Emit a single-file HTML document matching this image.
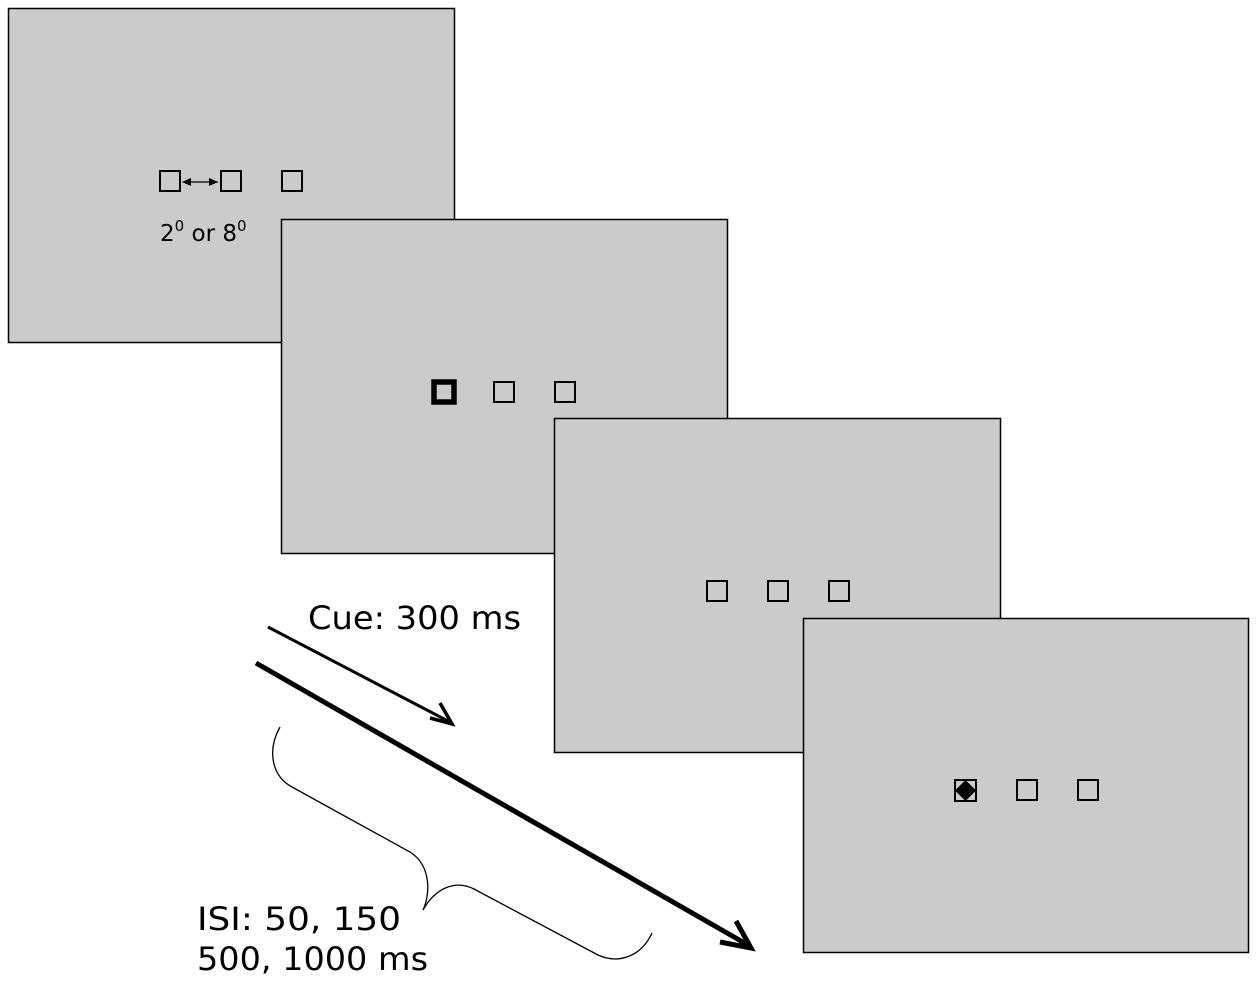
<!DOCTYPE html>
<html><head><style>body{margin:0;background:#fff}svg{display:block}</style></head><body>
<svg width="1256" height="984" viewBox="0 0 1256 984" xmlns="http://www.w3.org/2000/svg" font-family="DejaVu Sans, Liberation Sans, sans-serif">
<defs>
<marker id="a" markerWidth="10" markerHeight="10" refX="9" refY="5" orient="auto" markerUnits="userSpaceOnUse"><path d="M0,1 L9,5 L0,9 Z" fill="#000"/></marker>
<marker id="b" markerWidth="10" markerHeight="10" refX="1" refY="5" orient="auto" markerUnits="userSpaceOnUse"><path d="M9,1 L0,5 L9,9 Z" fill="#000"/></marker>
</defs>
<g fill="#cbcbcb" stroke="#000" stroke-width="1.5">
<rect x="8.5" y="8.5" width="446" height="334"/>
<rect x="281.5" y="219.5" width="446" height="334"/>
<rect x="554.5" y="418.5" width="446" height="334"/>
<rect x="803.5" y="618.5" width="445" height="334"/>
</g>
<g fill="none" stroke="#000" stroke-width="2">
<rect x="160" y="171" width="20" height="20"/>
<rect x="221" y="171" width="20" height="20"/>
<rect x="282" y="171" width="20" height="20"/>
<rect x="434" y="382" width="20" height="20" stroke-width="5.5"/>
<rect x="494" y="382" width="20" height="20"/>
<rect x="555" y="382" width="20" height="20"/>
<rect x="707" y="581" width="20" height="20"/>
<rect x="768" y="581" width="20" height="20"/>
<rect x="829" y="581" width="20" height="20"/>
<rect x="955" y="780" width="21" height="21"/>
<rect x="1017" y="780" width="20" height="20"/>
<rect x="1078" y="780" width="20" height="20"/>
</g>
<path d="M965.5,780 L976,790.5 L965.5,801 L955,790.5 Z" fill="#000"/>
<line x1="183" y1="182" x2="218" y2="182" stroke="#000" stroke-width="1.2" marker-start="url(#b)" marker-end="url(#a)"/>
<text x="160" y="241" font-size="23">2<tspan dy="-10" font-size="15">0</tspan><tspan dy="10"> or 8</tspan><tspan dy="-10" font-size="15">0</tspan></text>
<line x1="268" y1="627" x2="448" y2="721" stroke="#000" stroke-width="3"/>
<path d="M430,718 L452,724 L440,703" fill="none" stroke="#000" stroke-width="3.5"/>
<line x1="256" y1="663" x2="748" y2="945" stroke="#000" stroke-width="5"/>
<path d="M720,942 L751,948 L736,921" fill="none" stroke="#000" stroke-width="5"/>
<path d="M280,727 C268,748 270,775 292,787 L410,852 C432,866 430,895 423,910 C436,887 456,880 474,889 L598,955 C620,965 642,955 652,933" fill="none" stroke="#000" stroke-width="1.3"/>
<text x="308" y="629" font-size="32" textLength="213" lengthAdjust="spacingAndGlyphs">Cue: 300 ms</text>
<text x="197" y="930" font-size="32" textLength="204" lengthAdjust="spacingAndGlyphs">ISI: 50, 150</text>
<text x="197" y="970" font-size="32" textLength="231" lengthAdjust="spacingAndGlyphs">500, 1000 ms</text>
</svg>
</body></html>
